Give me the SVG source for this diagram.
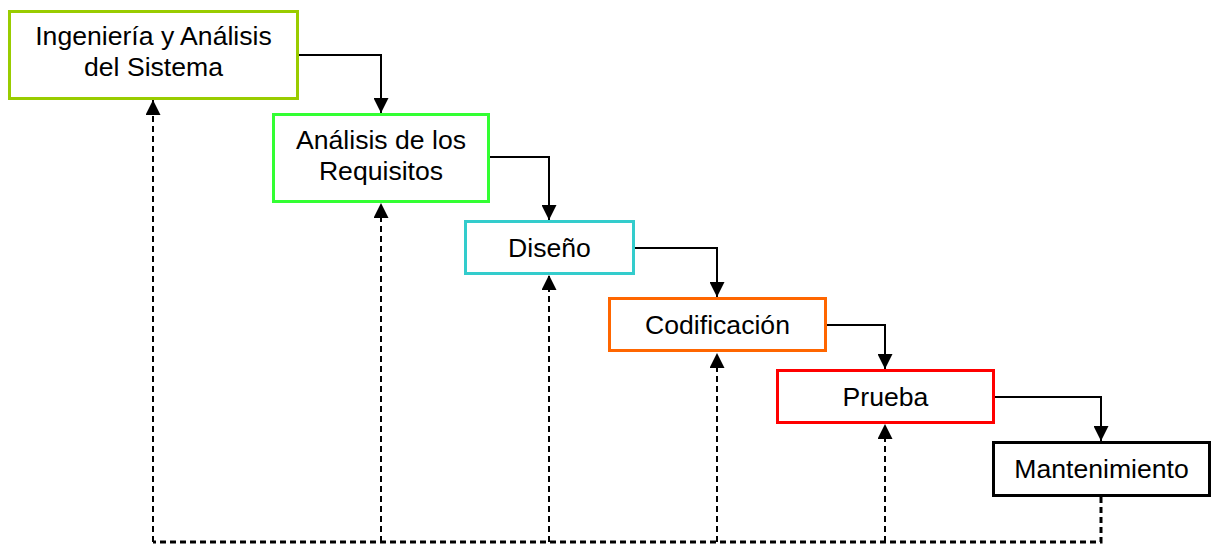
<svg xmlns="http://www.w3.org/2000/svg" width="1212" height="544" viewBox="0 0 1212 544">
<defs>
<style>
.box{fill:#fff;stroke-width:3}
.t{font-family:"Liberation Sans",Arial,sans-serif;font-size:26.6px;fill:#000;text-anchor:middle}
.c{fill:none;stroke:#000;stroke-width:2}
.d{fill:none;stroke:#000;stroke-width:2;stroke-dasharray:6 4}
</style>
<marker id="ah" viewBox="0 0 15 15" refX="15" refY="7.5" markerWidth="15" markerHeight="15" markerUnits="userSpaceOnUse" orient="auto">
<path d="M0,0 L15,7.5 L0,15 Z" fill="#000"/>
</marker>
</defs>
<rect width="1212" height="544" fill="#fff"/>
<g id="connectors">
<polyline class="c" points="298,55 381,55 381,113" marker-end="url(#ah)"/>
<polyline class="c" points="489,157 549,157 549,220" marker-end="url(#ah)"/>
<polyline class="c" points="633,248 717,248 717,297" marker-end="url(#ah)"/>
<polyline class="c" points="826,325 885,325 885,369" marker-end="url(#ah)"/>
<polyline class="c" points="994,397 1101,397 1101,441" marker-end="url(#ah)"/>
<polyline class="d" style="stroke-width:3" points="1101,497 1101,542 153,542"/>
<line class="d" x1="153" y1="542" x2="153" y2="100" marker-end="url(#ah)"/>
<line class="d" x1="381" y1="542" x2="381" y2="203" marker-end="url(#ah)"/>
<line class="d" x1="549" y1="542" x2="549" y2="275" marker-end="url(#ah)"/>
<line class="d" x1="717" y1="542" x2="717" y2="353" marker-end="url(#ah)"/>
<line class="d" x1="885" y1="542" x2="885" y2="424" marker-end="url(#ah)"/>
</g>
<g id="n1">
<rect class="box" x="9.5" y="11.5" width="288" height="87" stroke="#99CC00"/>
<text class="t" x="153.5" y="45">Ingeniería y Análisis</text>
<text class="t" x="153.5" y="76">del Sistema</text>
</g>
<g id="n2">
<rect class="box" x="273.5" y="114.5" width="215" height="87" stroke="#33FF33"/>
<text class="t" x="381" y="149">Análisis de los</text>
<text class="t" x="381" y="180">Requisitos</text>
</g>
<g id="n3">
<rect class="box" x="465.5" y="221.5" width="168" height="52" stroke="#33CCCC"/>
<text class="t" x="549.5" y="257">Diseño</text>
</g>
<g id="n4">
<rect class="box" x="609.5" y="298.5" width="216" height="52" stroke="#FF6600"/>
<text class="t" x="717.5" y="334">Codificación</text>
</g>
<g id="n5">
<rect class="box" x="777.5" y="370.5" width="216" height="52" stroke="#FF0000"/>
<text class="t" x="885.5" y="406">Prueba</text>
</g>
<g id="n6">
<rect class="box" x="993.5" y="442.5" width="216" height="53" stroke="#000"/>
<text class="t" x="1101.5" y="478">Mantenimiento</text>
</g>
</svg>
